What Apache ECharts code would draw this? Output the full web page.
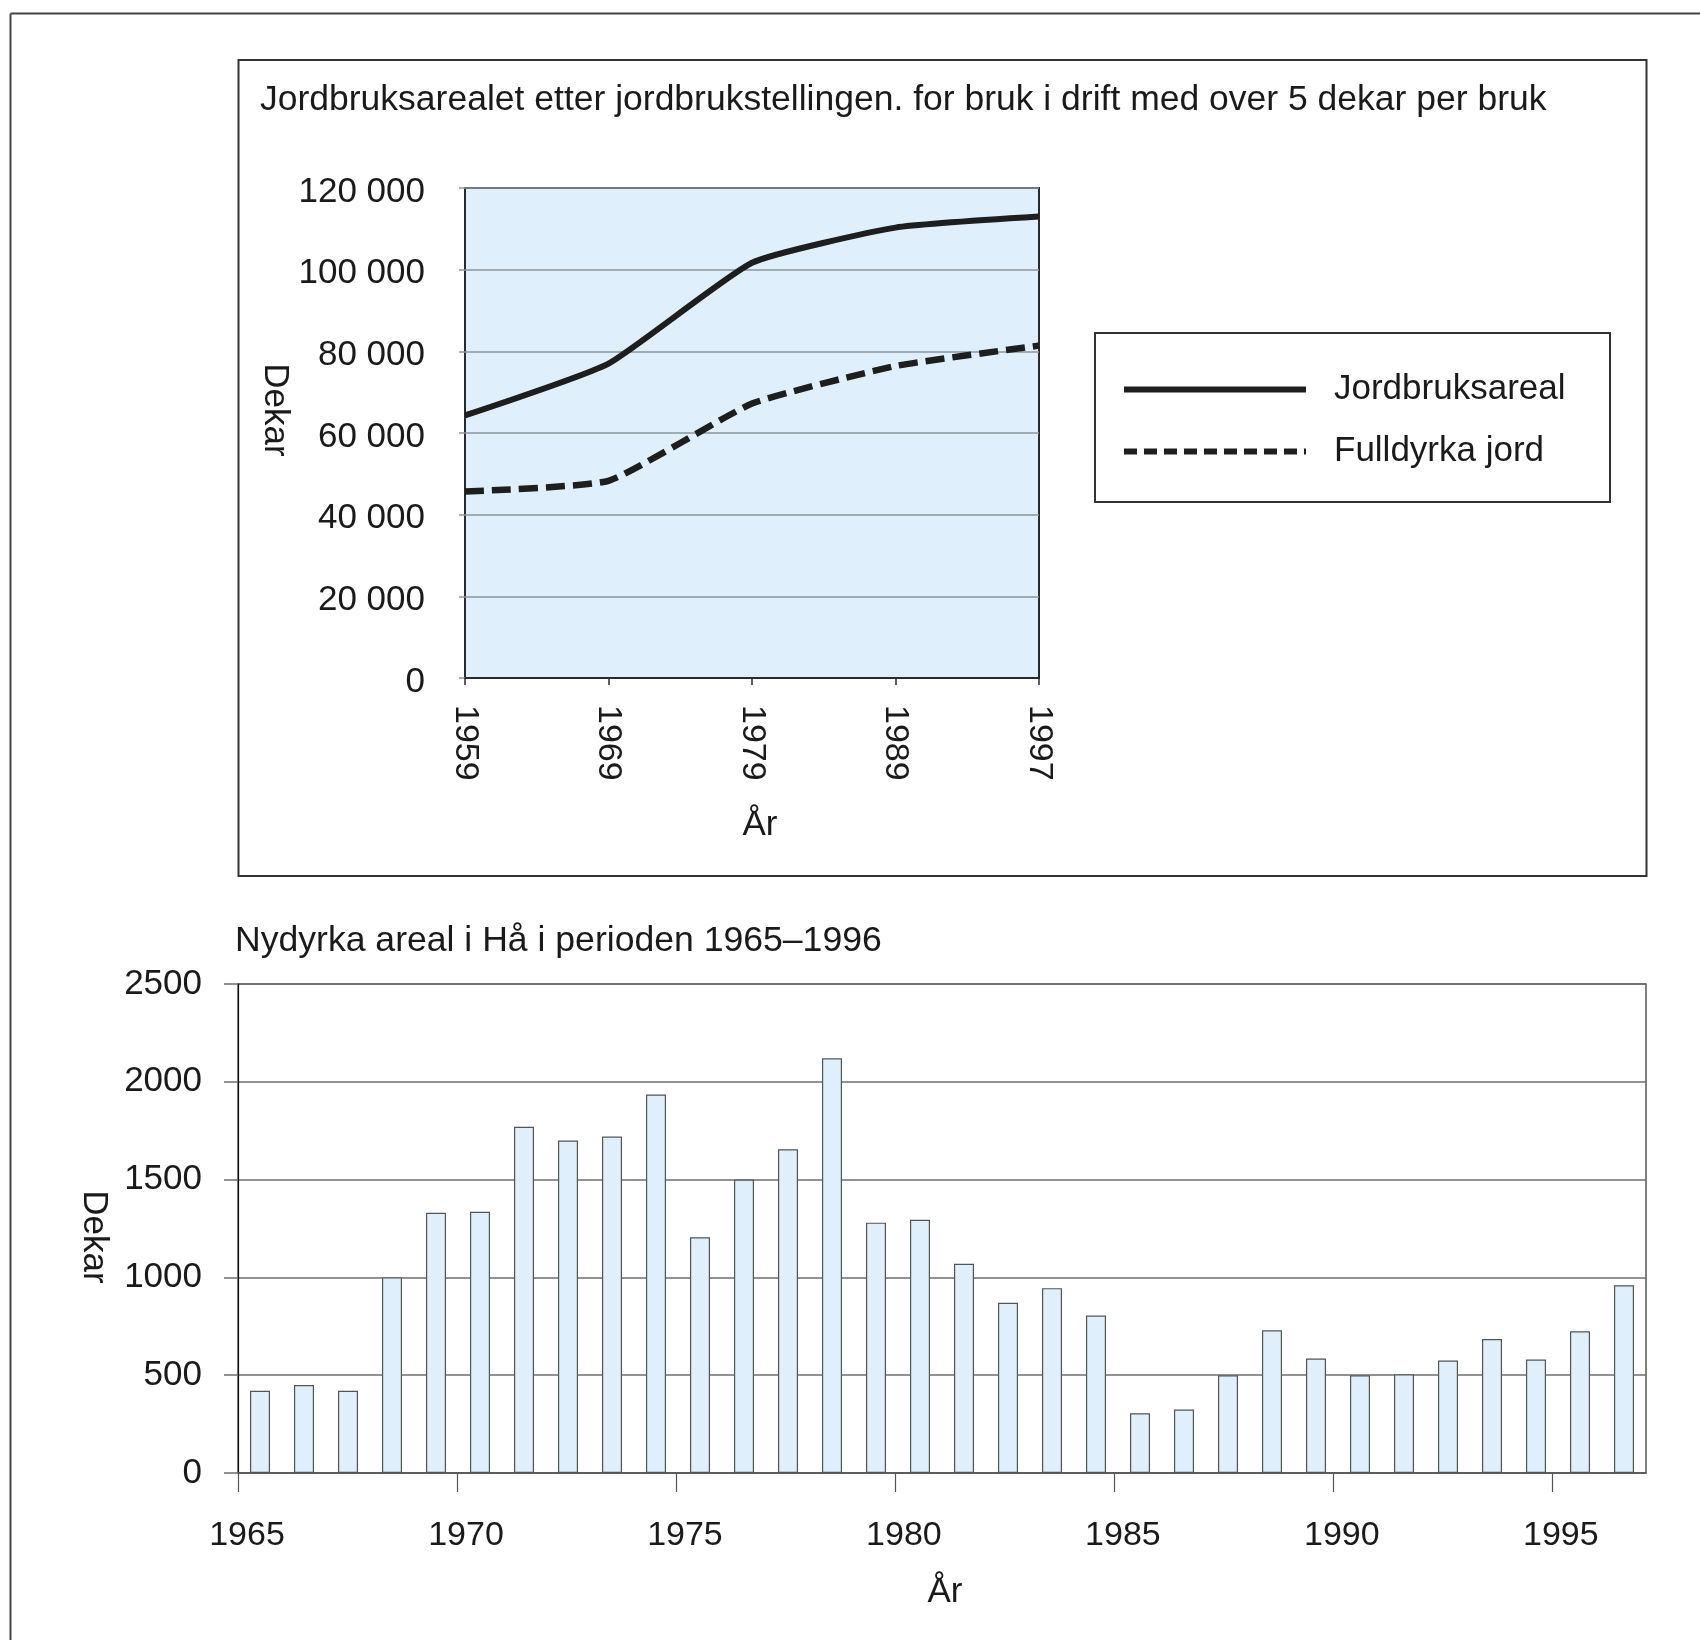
<!DOCTYPE html>
<html>
<head>
<meta charset="utf-8">
<script src="https://cdn.jsdelivr.net/npm/echarts@6/dist/echarts.min.js"></script>
<style>
html,body{margin:0;padding:0;background:#fff;}
#chart{width:1700px;height:1640px;}
</style>
</head>
<body>
<div id="chart"></div>
<script>
// ---- Data ----
const lineYears = ['1959', '1969', '1979', '1989', '1997'];
const jordbruksareal = [64300, 77000, 101700, 110300, 113000];
const fulldyrkaJord = [45700, 48300, 67200, 76400, 81400];

const barYears = ['1965','1966','1967','1968','1969','1970','1971','1972','1973','1974',
  '1975','1976','1977','1978','1979','1980','1981','1982','1983','1984',
  '1985','1986','1987','1988','1989','1990','1991','1992','1993','1994','1995','1996'];
const nydyrkaAreal = [420, 450, 420, 1000, 1330, 1335, 1770, 1700, 1720, 1935,
  1205, 1500, 1655, 2120, 1280, 1295, 1070, 870, 945, 805,
  305, 325, 500, 730, 585, 500, 505, 575, 685, 580, 725, 960];
const barTickYears = [1965, 1970, 1975, 1980, 1985, 1990, 1995];

const titleTop = 'Jordbruksarealet etter jordbrukstellingen. for bruk i drift med over 5 dekar per bruk';
const titleBottom = 'Nydyrka areal i Hå i perioden 1965–1996';
const seriesNames = ['Jordbruksareal', 'Fulldyrka jord'];

const FONT = '"Liberation Sans", Arial, Helvetica, sans-serif';
const TXT = '#1a1a1a';

function spaced(v) {
  return String(v).replace(/\B(?=(\d{3})+(?!\d))/g, ' ');
}

const chart = echarts.init(document.getElementById('chart'), null, {renderer: 'canvas'});

const option = {
  animation: false,
  backgroundColor: '#ffffff',
  textStyle: {fontFamily: FONT, color: TXT},
  grid: [
    {left: 465, top: 188, width: 574, height: 490, show: true,
     backgroundColor: '#dff0fc', borderColor: '#2a2a2a', borderWidth: 2},
    {left: 238, top: 984, width: 1408, height: 489, show: true,
     backgroundColor: 'transparent', borderColor: '#555555', borderWidth: 1.5}
  ],
  legend: {
    orient: 'vertical',
    left: 1116, top: 367,
    itemWidth: 182, itemHeight: 20, itemGap: 27,
    itemStyle: {opacity: 0},
    textStyle: {fontSize: 35, color: TXT, fontFamily: FONT, padding: [0, 0, 0, 23]},
    data: [
      {name: seriesNames[0], itemStyle: {opacity: 0}, lineStyle: {width: 6, type: 'solid', color: '#1e1e1e'}},
      {name: seriesNames[1], itemStyle: {opacity: 0}, lineStyle: {width: 6, type: [13, 7], color: '#1e1e1e'}}
    ]
  },
  xAxis: [
    {gridIndex: 0, type: 'category', data: lineYears, boundaryGap: false, position: 'bottom',
     axisLine: {show: true, lineStyle: {color: '#2a2a2a', width: 2}},
     axisTick: {show: true, length: 7, lineStyle: {color: '#2a2a2a', width: 1.5}},
     axisLabel: {rotate: -90, margin: 27, fontSize: 34, color: TXT, fontFamily: FONT},
     splitLine: {show: false}},
    {gridIndex: 1, type: 'category', data: barYears, show: false, position: 'bottom'},
    {gridIndex: 1, type: 'value', min: 1965, max: 1997.15, interval: 5, position: 'bottom', offset: 0,
     axisLine: {show: true, onZero: false, lineStyle: {color: '#555555', width: 1.5}},
     axisTick: {show: true, length: 19, customValues: barTickYears, lineStyle: {color: '#555555', width: 1.2}},
     axisLabel: {customValues: barTickYears, margin: 46, fontSize: 34, color: TXT, fontFamily: FONT,
       padding: [0, 0, 0, 18], formatter: v => String(v)},
     splitLine: {show: false}}
  ],
  yAxis: [
    {gridIndex: 0, type: 'value', min: 0, max: 120000, interval: 20000,
     axisLine: {show: false},
     axisTick: {show: true, length: 6, lineStyle: {color: '#8c959c', width: 1.5}},
     axisLabel: {margin: 40, fontSize: 35, color: TXT, fontFamily: FONT, formatter: spaced,
       verticalAlign: 'top', lineHeight: 8},
     splitLine: {show: true, lineStyle: {color: '#8c959c', width: 1.5}}},
    {gridIndex: 1, type: 'value', min: 0, max: 2500, interval: 500,
     axisLine: {show: true, lineStyle: {color: '#111111', width: 1.2}},
     axisTick: {show: true, length: 14, lineStyle: {color: '#6e6e6e', width: 1.5}},
     axisLabel: {margin: 36, fontSize: 35, color: TXT, fontFamily: FONT, formatter: v => String(v)},
     splitLine: {show: true, lineStyle: {color: '#6e6e6e', width: 1.5}}}
  ],
  series: [
    {name: seriesNames[0], type: 'line', xAxisIndex: 0, yAxisIndex: 0,
     data: jordbruksareal, smooth: 0.15, symbol: 'none',
     itemStyle: {color: '#1e1e1e'},
     lineStyle: {color: '#1e1e1e', width: 6, type: 'solid'}, z: 3},
    {name: seriesNames[1], type: 'line', xAxisIndex: 0, yAxisIndex: 0,
     data: fulldyrkaJord, smooth: 0.15, symbol: 'none',
     itemStyle: {color: '#1e1e1e'},
     lineStyle: {color: '#1e1e1e', width: 6.5, type: [19, 8], cap: 'butt'}, z: 3},
    {name: 'Nydyrka areal', type: 'bar', xAxisIndex: 1, yAxisIndex: 1,
     data: nydyrkaAreal, barWidth: 20,
     itemStyle: {color: '#dff0fc', borderColor: '#555555', borderWidth: 1.2}, z: 3}
  ],
  graphic: [
    {type: 'line', shape: {x1: 10.5, y1: 13.5, x2: 1700, y2: 13.5}, style: {stroke: '#444', lineWidth: 2}},
    {type: 'line', shape: {x1: 10.5, y1: 13.5, x2: 10.5, y2: 1640}, style: {stroke: '#444', lineWidth: 2}},
    {type: 'rect', shape: {x: 238.5, y: 60, width: 1408, height: 816}, style: {fill: 'none', stroke: '#333', lineWidth: 2}},
    {type: 'rect', shape: {x: 1095, y: 333, width: 515, height: 169}, style: {fill: 'none', stroke: '#333', lineWidth: 2}},
    {type: 'text', x: 260, y: 100, style: {text: titleTop, font: '35.5px ' + FONT, fill: TXT, textAlign: 'left', textVerticalAlign: 'middle'}},
    {type: 'text', x: 235, y: 941, style: {text: titleBottom, font: '35.6px ' + FONT, fill: TXT, textAlign: 'left', textVerticalAlign: 'middle'}},
    {type: 'text', x: 760, y: 825, style: {text: 'År', font: '35px ' + FONT, fill: TXT, textAlign: 'center', textVerticalAlign: 'middle'}},
    {type: 'text', x: 945, y: 1592, style: {text: 'År', font: '35px ' + FONT, fill: TXT, textAlign: 'center', textVerticalAlign: 'middle'}},
    {type: 'text', x: 275, y: 410, rotation: -Math.PI / 2, style: {text: 'Dekar', font: '35px ' + FONT, fill: TXT, textAlign: 'center', textVerticalAlign: 'middle'}},
    {type: 'text', x: 94, y: 1237, rotation: -Math.PI / 2, style: {text: 'Dekar', font: '35px ' + FONT, fill: TXT, textAlign: 'center', textVerticalAlign: 'middle'}}
  ]
};
chart.setOption(option);
</script>
</body>
</html>
